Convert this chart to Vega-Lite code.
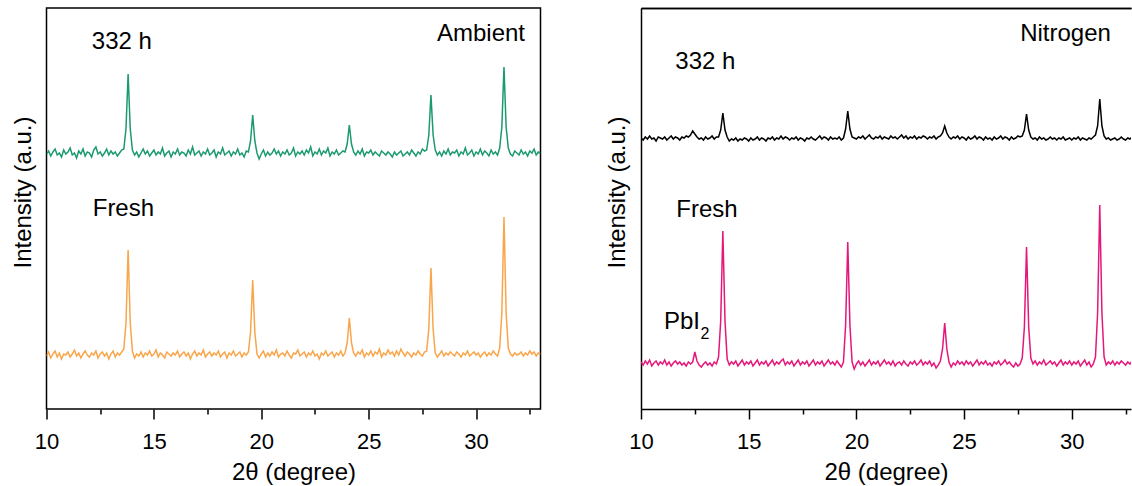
{
"$schema": "https://vega.github.io/schema/vega-lite/v6.json",
"background": "white",
"padding": {"left": 9.5, "top": 7, "right": 0, "bottom": 0},
"spacing": 63.5,
"resolve": {"scale": {"color": "independent", "x": "independent", "y": "independent"}},
"config": {
  "font": "Liberation Sans",
  "view": {"stroke": "black", "strokeWidth": 1.5},
  "axis": {"grid": false, "domainColor": "black", "domainWidth": 1.5, "tickColor": "black", "tickWidth": 1.5, "labelColor": "black", "titleColor": "black", "labelFont": "Liberation Sans", "titleFont": "Liberation Sans", "labelFontSize": 22, "titleFontSize": 24, "titleFontWeight": "normal"}
},
"datasets": {
"xrd": [
{"x":10.0,"a":255,"b":53,"c":271,"d":47},
{"x":10.1,"a":258,"b":57,"c":269,"d":44},
{"x":10.2,"a":253,"b":51,"c":272,"d":48},
{"x":10.3,"a":257,"b":55,"c":270,"d":45},
{"x":10.4,"a":260,"b":58,"c":273,"d":49},
{"x":10.5,"a":254,"b":52,"c":270,"d":43},
{"x":10.6,"a":256,"b":56,"c":271,"d":46},
{"x":10.7,"a":252,"b":50,"c":268,"d":48},
{"x":10.8,"a":259,"b":55,"c":272,"d":44},
{"x":10.9,"a":255,"b":54,"c":271,"d":47},
{"x":11.0,"a":257,"b":57,"c":270,"d":45},
{"x":11.1,"a":261,"b":52,"c":272,"d":49},
{"x":11.2,"a":254,"b":55,"c":269,"d":44},
{"x":11.3,"a":256,"b":59,"c":271,"d":47},
{"x":11.4,"a":251,"b":53,"c":273,"d":43},
{"x":11.5,"a":258,"b":56,"c":270,"d":46},
{"x":11.6,"a":255,"b":51,"c":272,"d":48},
{"x":11.7,"a":260,"b":55,"c":271,"d":45},
{"x":11.8,"a":253,"b":58,"c":269,"d":47},
{"x":11.9,"a":257,"b":54,"c":272,"d":44},
{"x":12.0,"a":256,"b":52,"c":271,"d":46},
{"x":12.1,"a":252,"b":56,"c":273,"d":43},
{"x":12.2,"a":259,"b":54,"c":272,"d":47},
{"x":12.3,"a":262,"b":58,"c":274,"d":45},
{"x":12.4,"a":255,"b":51,"c":278,"d":47},
{"x":12.5,"a":257,"b":55,"c":275,"d":57},
{"x":12.6,"a":253,"b":57,"c":272,"d":48},
{"x":12.7,"a":256,"b":53,"c":270,"d":44},
{"x":12.8,"a":260,"b":56,"c":271,"d":42},
{"x":12.9,"a":254,"b":50,"c":269,"d":45},
{"x":13.0,"a":258,"b":55,"c":272,"d":47},
{"x":13.1,"a":255,"b":58,"c":270,"d":44},
{"x":13.2,"a":257,"b":52,"c":271,"d":46},
{"x":13.3,"a":253,"b":56,"c":273,"d":43},
{"x":13.4,"a":256,"b":54,"c":270,"d":47},
{"x":13.5,"a":259,"b":57,"c":272,"d":45},
{"x":13.6,"a":260,"b":60,"c":272,"d":52},
{"x":13.7,"a":280,"b":86,"c":279,"d":88},
{"x":13.8,"a":335,"b":159,"c":296,"d":178},
{"x":13.9,"a":280,"b":86,"c":279,"d":88},
{"x":14.0,"a":259,"b":58,"c":272,"d":50},
{"x":14.1,"a":254,"b":51,"c":268,"d":44},
{"x":14.2,"a":257,"b":55,"c":270,"d":47},
{"x":14.3,"a":252,"b":53,"c":269,"d":45},
{"x":14.4,"a":256,"b":57,"c":271,"d":48},
{"x":14.5,"a":260,"b":52,"c":268,"d":43},
{"x":14.6,"a":255,"b":56,"c":270,"d":46},
{"x":14.7,"a":258,"b":54,"c":269,"d":49},
{"x":14.8,"a":253,"b":58,"c":271,"d":44},
{"x":14.9,"a":256,"b":53,"c":270,"d":47},
{"x":15.0,"a":259,"b":55,"c":268,"d":45},
{"x":15.1,"a":254,"b":59,"c":271,"d":48},
{"x":15.2,"a":257,"b":52,"c":269,"d":43},
{"x":15.3,"a":255,"b":56,"c":270,"d":46},
{"x":15.4,"a":261,"b":54,"c":272,"d":49},
{"x":15.5,"a":253,"b":51,"c":269,"d":44},
{"x":15.6,"a":256,"b":57,"c":271,"d":47},
{"x":15.7,"a":258,"b":55,"c":270,"d":45},
{"x":15.8,"a":252,"b":53,"c":268,"d":48},
{"x":15.9,"a":257,"b":56,"c":271,"d":43},
{"x":16.0,"a":255,"b":54,"c":270,"d":46},
{"x":16.1,"a":260,"b":58,"c":272,"d":49},
{"x":16.2,"a":254,"b":52,"c":269,"d":44},
{"x":16.3,"a":257,"b":55,"c":271,"d":47},
{"x":16.4,"a":256,"b":57,"c":270,"d":45},
{"x":16.5,"a":253,"b":53,"c":273,"d":48},
{"x":16.6,"a":259,"b":56,"c":270,"d":50},
{"x":16.7,"a":255,"b":50,"c":272,"d":44},
{"x":16.8,"a":262,"b":55,"c":271,"d":47},
{"x":16.9,"a":254,"b":58,"c":269,"d":45},
{"x":17.0,"a":256,"b":53,"c":271,"d":48},
{"x":17.1,"a":258,"b":56,"c":270,"d":43},
{"x":17.2,"a":253,"b":54,"c":272,"d":46},
{"x":17.3,"a":257,"b":59,"c":269,"d":49},
{"x":17.4,"a":255,"b":52,"c":271,"d":44},
{"x":17.5,"a":260,"b":55,"c":270,"d":47},
{"x":17.6,"a":254,"b":57,"c":268,"d":45},
{"x":17.7,"a":256,"b":53,"c":271,"d":48},
{"x":17.8,"a":259,"b":56,"c":270,"d":43},
{"x":17.9,"a":252,"b":54,"c":272,"d":46},
{"x":18.0,"a":257,"b":58,"c":270,"d":49},
{"x":18.1,"a":255,"b":52,"c":269,"d":44},
{"x":18.2,"a":261,"b":55,"c":271,"d":47},
{"x":18.3,"a":254,"b":57,"c":273,"d":45},
{"x":18.4,"a":256,"b":51,"c":270,"d":48},
{"x":18.5,"a":258,"b":56,"c":272,"d":43},
{"x":18.6,"a":253,"b":54,"c":271,"d":46},
{"x":18.7,"a":257,"b":58,"c":269,"d":49},
{"x":18.8,"a":255,"b":53,"c":272,"d":45},
{"x":18.9,"a":260,"b":55,"c":270,"d":47},
{"x":19.0,"a":254,"b":57,"c":271,"d":44},
{"x":19.1,"a":256,"b":52,"c":270,"d":48},
{"x":19.2,"a":252,"b":56,"c":272,"d":45},
{"x":19.3,"a":258,"b":54,"c":269,"d":42},
{"x":19.4,"a":257,"b":57,"c":271,"d":47},
{"x":19.5,"a":268,"b":77,"c":280,"d":84},
{"x":19.6,"a":294,"b":129,"c":298,"d":167},
{"x":19.7,"a":268,"b":77,"c":280,"d":84},
{"x":19.8,"a":256,"b":55,"c":272,"d":47},
{"x":19.9,"a":250,"b":51,"c":271,"d":40},
{"x":20.0,"a":255,"b":55,"c":270,"d":45},
{"x":20.1,"a":259,"b":58,"c":272,"d":48},
{"x":20.2,"a":253,"b":52,"c":271,"d":44},
{"x":20.3,"a":257,"b":56,"c":273,"d":47},
{"x":20.4,"a":254,"b":53,"c":270,"d":43},
{"x":20.5,"a":256,"b":57,"c":272,"d":46},
{"x":20.6,"a":260,"b":54,"c":274,"d":49},
{"x":20.7,"a":255,"b":59,"c":271,"d":44},
{"x":20.8,"a":258,"b":52,"c":270,"d":47},
{"x":20.9,"a":253,"b":55,"c":272,"d":45},
{"x":21.0,"a":257,"b":56,"c":271,"d":48},
{"x":21.1,"a":255,"b":53,"c":273,"d":43},
{"x":21.2,"a":259,"b":58,"c":270,"d":46},
{"x":21.3,"a":254,"b":54,"c":272,"d":49},
{"x":21.4,"a":256,"b":51,"c":271,"d":45},
{"x":21.5,"a":261,"b":56,"c":270,"d":47},
{"x":21.6,"a":253,"b":55,"c":273,"d":44},
{"x":21.7,"a":257,"b":59,"c":271,"d":48},
{"x":21.8,"a":255,"b":53,"c":272,"d":43},
{"x":21.9,"a":258,"b":55,"c":270,"d":46},
{"x":22.0,"a":254,"b":57,"c":272,"d":47},
{"x":22.1,"a":259,"b":52,"c":274,"d":44},
{"x":22.2,"a":256,"b":56,"c":271,"d":48},
{"x":22.3,"a":262,"b":54,"c":273,"d":45},
{"x":22.4,"a":253,"b":58,"c":270,"d":43},
{"x":22.5,"a":257,"b":53,"c":272,"d":47},
{"x":22.6,"a":255,"b":55,"c":271,"d":45},
{"x":22.7,"a":260,"b":50,"c":273,"d":48},
{"x":22.8,"a":254,"b":56,"c":270,"d":44},
{"x":22.9,"a":258,"b":54,"c":272,"d":46},
{"x":23.0,"a":256,"b":58,"c":271,"d":49},
{"x":23.1,"a":261,"b":53,"c":273,"d":44},
{"x":23.2,"a":253,"b":55,"c":272,"d":47},
{"x":23.3,"a":257,"b":57,"c":270,"d":45},
{"x":23.4,"a":255,"b":52,"c":272,"d":48},
{"x":23.5,"a":259,"b":56,"c":271,"d":43},
{"x":23.6,"a":254,"b":54,"c":273,"d":46},
{"x":23.7,"a":256,"b":58,"c":270,"d":41},
{"x":23.8,"a":258,"b":53,"c":272,"d":44},
{"x":23.9,"a":257,"b":56,"c":273,"d":48},
{"x":24.0,"a":265,"b":66,"c":276,"d":60},
{"x":24.1,"a":284,"b":91,"c":283,"d":86},
{"x":24.2,"a":265,"b":66,"c":276,"d":60},
{"x":24.3,"a":257,"b":56,"c":272,"d":47},
{"x":24.4,"a":254,"b":53,"c":270,"d":42},
{"x":24.5,"a":258,"b":57,"c":272,"d":46},
{"x":24.6,"a":255,"b":55,"c":271,"d":44},
{"x":24.7,"a":260,"b":59,"c":273,"d":48},
{"x":24.8,"a":253,"b":52,"c":270,"d":45},
{"x":24.9,"a":257,"b":56,"c":272,"d":47},
{"x":25.0,"a":256,"b":54,"c":271,"d":44},
{"x":25.1,"a":259,"b":58,"c":269,"d":48},
{"x":25.2,"a":254,"b":53,"c":272,"d":45},
{"x":25.3,"a":257,"b":57,"c":270,"d":47},
{"x":25.4,"a":255,"b":55,"c":271,"d":43},
{"x":25.5,"a":253,"b":60,"c":273,"d":46},
{"x":25.6,"a":258,"b":52,"c":270,"d":49},
{"x":25.7,"a":256,"b":56,"c":272,"d":44},
{"x":25.8,"a":254,"b":54,"c":271,"d":47},
{"x":25.9,"a":257,"b":59,"c":269,"d":45},
{"x":26.0,"a":255,"b":55,"c":272,"d":48},
{"x":26.1,"a":252,"b":57,"c":270,"d":44},
{"x":26.2,"a":257,"b":53,"c":271,"d":46},
{"x":26.3,"a":254,"b":58,"c":269,"d":43},
{"x":26.4,"a":256,"b":54,"c":272,"d":47},
{"x":26.5,"a":258,"b":60,"c":270,"d":45},
{"x":26.6,"a":253,"b":56,"c":271,"d":48},
{"x":26.7,"a":255,"b":53,"c":273,"d":44},
{"x":26.8,"a":257,"b":57,"c":270,"d":46},
{"x":26.9,"a":254,"b":55,"c":272,"d":49},
{"x":27.0,"a":259,"b":52,"c":271,"d":45},
{"x":27.1,"a":256,"b":56,"c":269,"d":47},
{"x":27.2,"a":253,"b":54,"c":272,"d":44},
{"x":27.3,"a":257,"b":58,"c":270,"d":42},
{"x":27.4,"a":255,"b":55,"c":271,"d":46},
{"x":27.5,"a":260,"b":53,"c":273,"d":43},
{"x":27.6,"a":258,"b":57,"c":272,"d":45},
{"x":27.7,"a":259,"b":58,"c":273,"d":51},
{"x":27.8,"a":274,"b":80,"c":279,"d":82},
{"x":27.9,"a":314,"b":141,"c":295,"d":162},
{"x":28.0,"a":274,"b":80,"c":279,"d":82},
{"x":28.1,"a":259,"b":56,"c":272,"d":51},
{"x":28.2,"a":254,"b":52,"c":270,"d":45},
{"x":28.3,"a":257,"b":55,"c":271,"d":48},
{"x":28.4,"a":253,"b":58,"c":269,"d":44},
{"x":28.5,"a":258,"b":53,"c":272,"d":47},
{"x":28.6,"a":255,"b":56,"c":270,"d":45},
{"x":28.7,"a":260,"b":54,"c":271,"d":49},
{"x":28.8,"a":254,"b":57,"c":269,"d":44},
{"x":28.9,"a":257,"b":55,"c":270,"d":46},
{"x":29.0,"a":256,"b":53,"c":272,"d":48},
{"x":29.1,"a":259,"b":57,"c":270,"d":45},
{"x":29.2,"a":253,"b":55,"c":271,"d":47},
{"x":29.3,"a":257,"b":52,"c":269,"d":43},
{"x":29.4,"a":255,"b":56,"c":271,"d":46},
{"x":29.5,"a":261,"b":54,"c":270,"d":49},
{"x":29.6,"a":254,"b":58,"c":272,"d":44},
{"x":29.7,"a":256,"b":53,"c":269,"d":47},
{"x":29.8,"a":259,"b":55,"c":270,"d":45},
{"x":29.9,"a":253,"b":57,"c":271,"d":48},
{"x":30.0,"a":257,"b":54,"c":269,"d":44},
{"x":30.1,"a":255,"b":56,"c":271,"d":47},
{"x":30.2,"a":260,"b":52,"c":270,"d":45},
{"x":30.3,"a":254,"b":55,"c":272,"d":48},
{"x":30.4,"a":258,"b":57,"c":269,"d":43},
{"x":30.5,"a":256,"b":53,"c":271,"d":46},
{"x":30.6,"a":253,"b":56,"c":270,"d":49},
{"x":30.7,"a":259,"b":54,"c":269,"d":44},
{"x":30.8,"a":255,"b":58,"c":271,"d":47},
{"x":30.9,"a":257,"b":55,"c":270,"d":42},
{"x":31.0,"a":254,"b":53,"c":272,"d":45},
{"x":31.1,"a":261,"b":61,"c":274,"d":52},
{"x":31.2,"a":282,"b":96,"c":283,"d":96},
{"x":31.3,"a":342,"b":192,"c":310,"d":204},
{"x":31.4,"a":282,"b":96,"c":283,"d":96},
{"x":31.5,"a":261,"b":61,"c":273,"d":52},
{"x":31.6,"a":255,"b":55,"c":270,"d":44},
{"x":31.7,"a":253,"b":53,"c":271,"d":47},
{"x":31.8,"a":258,"b":56,"c":269,"d":45},
{"x":31.9,"a":256,"b":54,"c":270,"d":48},
{"x":32.0,"a":254,"b":55,"c":271,"d":44},
{"x":32.1,"a":259,"b":57,"c":269,"d":47},
{"x":32.2,"a":255,"b":53,"c":270,"d":45},
{"x":32.3,"a":257,"b":56,"c":272,"d":48},
{"x":32.4,"a":253,"b":54,"c":270,"d":46},
{"x":32.5,"a":258,"b":58,"c":269,"d":44},
{"x":32.6,"a":256,"b":55,"c":271,"d":47},
{"x":32.7,"a":260,"b":57,"c":270,"d":45},
{"x":32.8,"a":254,"b":53,"c":272,"d":48},
{"x":32.9,"a":257,"b":56,"c":270,"d":46},
{"x":33.0,"a":256,"b":55,"c":271,"d":47}
],
"leftLabels": [
{"tx":13.51,"ty":367,"label":"332 h"},
{"tx":30.23,"ty":375,"label":"Ambient"},
{"tx":13.58,"ty":200,"label":"Fresh"}
],
"rightLabels": [
{"tx":12.99,"ty":347,"label":"332 h"},
{"tx":29.71,"ty":375,"label":"Nitrogen"},
{"tx":13.06,"ty":199,"label":"Fresh"},
{"tx":11.9,"ty":87,"label":"PbI"}
],
"sub": [
{"tx":12.97,"ty":75,"label":"2"}
]
},
"hconcat": [
{
  "width": 494,
  "height": 401,
  "layer": [
    {
      "data": {"name": "xrd"},
      "transform": [{"fold": ["a", "b"], "as": ["series", "y"]}],
      "mark": {"type": "line", "strokeWidth": 1.5, "clip": true},
      "encoding": {
        "x": {"field": "x", "type": "quantitative", "scale": {"domain": [10, 33], "nice": false, "zero": false},
          "axis": {"values": [10, 12.5, 15, 17.5, 20, 22.5, 25, 27.5, 30, 32.5], "labelExpr": "datum.value % 5 === 0 ? datum.label : ''", "tickSize": {"condition": {"test": "datum.value % 5 === 0", "value": 10}, "value": 5}, "labelPadding": 12, "labelFlush": false, "labelOverlap": false, "domain": false, "title": "2θ (degree)", "titlePadding": 8}},
        "y": {"field": "y", "type": "quantitative", "scale": {"domain": [0, 401], "nice": false, "zero": false},
          "axis": {"domain": false, "ticks": false, "labels": false, "title": "Intensity (a.u.)", "titlePadding": 11.5, "titleY": 184}},
        "color": {"field": "series", "type": "nominal", "scale": {"domain": ["a", "b"], "range": ["#1B9A6E", "#F9A54A"]}, "legend": null}
      }
    },
    {
      "data": {"name": "leftLabels"},
      "mark": {"type": "text", "font": "Liberation Sans", "fontSize": 24, "fill": "black", "align": "center", "baseline": "middle"},
      "encoding": {
        "x": {"field": "tx", "type": "quantitative", "scale": {"domain": [10, 33], "nice": false, "zero": false},
          "axis": {"values": [10, 12.5, 15, 17.5, 20, 22.5, 25, 27.5, 30, 32.5], "labelExpr": "datum.value % 5 === 0 ? datum.label : ''", "tickSize": {"condition": {"test": "datum.value % 5 === 0", "value": 10}, "value": 5}, "labelPadding": 12, "labelFlush": false, "labelOverlap": false, "domain": false, "title": "2θ (degree)", "titlePadding": 8}},
        "y": {"field": "ty", "type": "quantitative", "scale": {"domain": [0, 401], "nice": false, "zero": false},
          "axis": {"domain": false, "ticks": false, "labels": false, "title": "Intensity (a.u.)", "titlePadding": 11.5, "titleY": 184}},
        "text": {"field": "label"}
      }
    }
  ]
},
{
  "width": 490,
  "height": 401,
  "view": {"stroke": null},
  "resolve": {"axis": {"x": "independent"}},
  "layer": [
    {
      "data": {"name": "xrd"},
      "transform": [{"fold": ["c", "d"], "as": ["series", "y"]}],
      "mark": {"type": "line", "strokeWidth": 1.5, "clip": true},
      "encoding": {
        "x": {"field": "x", "type": "quantitative", "scale": {"domain": [10, 32.75], "nice": false, "zero": false},
          "axis": {"orient": "bottom", "values": [10, 12.5, 15, 17.5, 20, 22.5, 25, 27.5, 30, 32.5], "labelExpr": "datum.value % 5 === 0 ? datum.label : ''", "tickSize": {"condition": {"test": "datum.value % 5 === 0", "value": 10}, "value": 5}, "labelPadding": 12, "labelFlush": false, "labelOverlap": false, "domain": true, "title": "2θ (degree)", "titlePadding": 8}},
        "y": {"field": "y", "type": "quantitative", "scale": {"domain": [0, 401], "nice": false, "zero": false},
          "axis": {"domain": true, "ticks": false, "labels": false, "title": "Intensity (a.u.)", "titlePadding": 11.5, "titleY": 184}},
        "color": {"field": "series", "type": "nominal", "scale": {"domain": ["c", "d"], "range": ["#000000", "#E5177B"]}, "legend": null}
      }
    },
    {
      "data": {"name": "rightLabels"},
      "mark": {"type": "text", "font": "Liberation Sans", "fontSize": 24, "fill": "black", "align": "center", "baseline": "middle"},
      "encoding": {
        "x": {"field": "tx", "type": "quantitative", "scale": {"domain": [10, 32.75], "nice": false, "zero": false},
          "axis": {"orient": "top", "domain": true, "ticks": false, "labels": false, "title": null, "grid": false}},
        "y": {"field": "ty", "type": "quantitative", "scale": {"domain": [0, 401], "nice": false, "zero": false},
          "axis": {"domain": true, "ticks": false, "labels": false, "title": "Intensity (a.u.)", "titlePadding": 11.5, "titleY": 184}},
        "text": {"field": "label"}
      }
    },
    {
      "data": {"name": "sub"},
      "mark": {"type": "text", "font": "Liberation Sans", "fontSize": 16, "fill": "black", "align": "center", "baseline": "middle"},
      "encoding": {
        "x": {"field": "tx", "type": "quantitative", "scale": {"domain": [10, 32.75], "nice": false, "zero": false},
          "axis": {"orient": "top", "domain": true, "ticks": false, "labels": false, "title": null, "grid": false}},
        "y": {"field": "ty", "type": "quantitative", "scale": {"domain": [0, 401], "nice": false, "zero": false},
          "axis": {"domain": true, "ticks": false, "labels": false, "title": "Intensity (a.u.)", "titlePadding": 11.5, "titleY": 184}},
        "text": {"field": "label"}
      }
    }
  ]
}
]
}
